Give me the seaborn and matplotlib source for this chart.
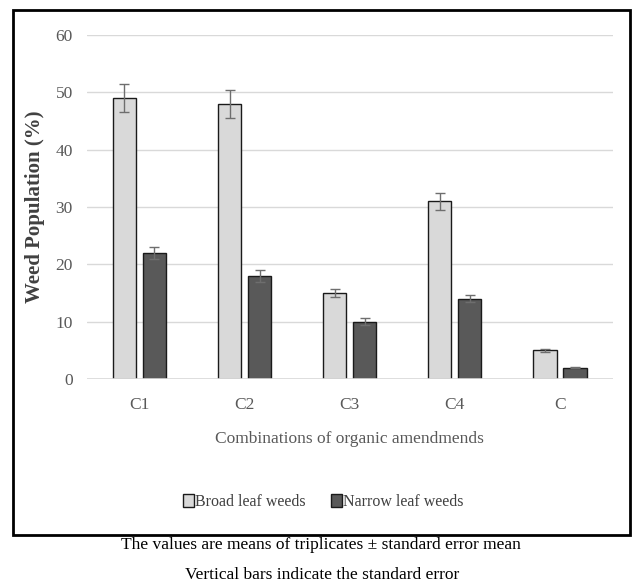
import matplotlib
matplotlib.use("Agg")
import matplotlib.pyplot as plt
from matplotlib.patches import Rectangle
import seaborn as sns
import pandas as pd

categories = ["C1", "C2", "C3", "C4", "C"]
series_names = ["Broad leaf weeds", "Narrow leaf weeds"]
broad_leaf = [49, 48, 15, 31, 5]
narrow_leaf = [22, 18, 10, 14, 2]
broad_err = [2.45, 2.45, 0.7, 1.5, 0.3]
narrow_err = [1.1, 1.0, 0.6, 0.6, 0.1]
y_ticks = [0, 10, 20, 30, 40, 50, 60]

df = pd.DataFrame({
    "combo": categories * 2,
    "series": [series_names[0]] * len(categories) + [series_names[1]] * len(categories),
    "value": broad_leaf + narrow_leaf,
})

sns.set_theme(style="white")
plt.rcParams["font.family"] = ["Liberation Serif", "DejaVu Serif"]

fig = plt.figure(figsize=(6.32, 5.82), dpi=100)
ax = fig.add_axes([0.1373, 0.3488, 0.832, 0.5911])

palette = {series_names[0]: "#d9d9d9", series_names[1]: "#595959"}
sns.barplot(data=df, x="combo", y="value", hue="series", order=categories,
            hue_order=series_names, palette=palette, saturation=1,
            width=0.57, gap=0.23, edgecolor="#1a1a1a", linewidth=1.0,
            errorbar=None, ax=ax, zorder=3)

# standard error whiskers on top of each bar
for container, errs in zip(ax.containers, [broad_err, narrow_err]):
    xs = [b.get_x() + b.get_width() / 2 for b in container]
    hs = [b.get_height() for b in container]
    ax.errorbar(xs, hs, yerr=errs, fmt="none", ecolor="#6e6e6e",
                elinewidth=1.0, capsize=3.3, capthick=1.0, zorder=4)

ax.set_ylim(0, 60)
ax.set_yticks(y_ticks)
ax.set_xlim(-0.5, len(categories) - 0.5)
ax.yaxis.grid(True, color="#d9d9d9", linewidth=1.0, zorder=0)
ax.set_axisbelow(True)
for s in ax.spines.values():
    s.set_visible(False)
ax.axhline(0, color="#d9d9d9", linewidth=1.2, zorder=5)
ax.tick_params(axis="both", length=0, labelcolor="#595959", labelsize=12.5)
ax.tick_params(axis="x", pad=13)
ax.tick_params(axis="y", pad=10)

ax.set_xlabel("Combinations of organic amendmends", fontsize=12.5,
              color="#595959", labelpad=13)
ax.set_ylabel("Weed Population (%)", fontsize=15, fontweight="bold",
              color="#404040")
ax.yaxis.set_label_coords(-0.08, 0.5)

sns.move_legend(ax, "center", bbox_to_anchor=(0.512, 0.1375),
                bbox_transform=fig.transFigure, ncol=2, frameon=False,
                title=None, fontsize=11.5, handlelength=0.65, handleheight=0.9,
                handletextpad=0.1, columnspacing=1.6, labelcolor="#404040")

# outer frame around the chart area
fig.add_artist(Rectangle((13 / 632, 47 / 582), 617 / 632, 525 / 582,
                         transform=fig.transFigure, fill=False,
                         edgecolor="black", linewidth=2.0))

fig.text(0.508, 1 - 545 / 582,
         "The values are means of triplicates \u00b1 standard error mean",
         ha="center", va="center", fontsize=12.5, color="black")
fig.text(0.509, 1 - 575 / 582,
         "Vertical bars indicate the standard error",
         ha="center", va="center", fontsize=12.5, color="black")

fig.savefig("out.png", dpi=100)
